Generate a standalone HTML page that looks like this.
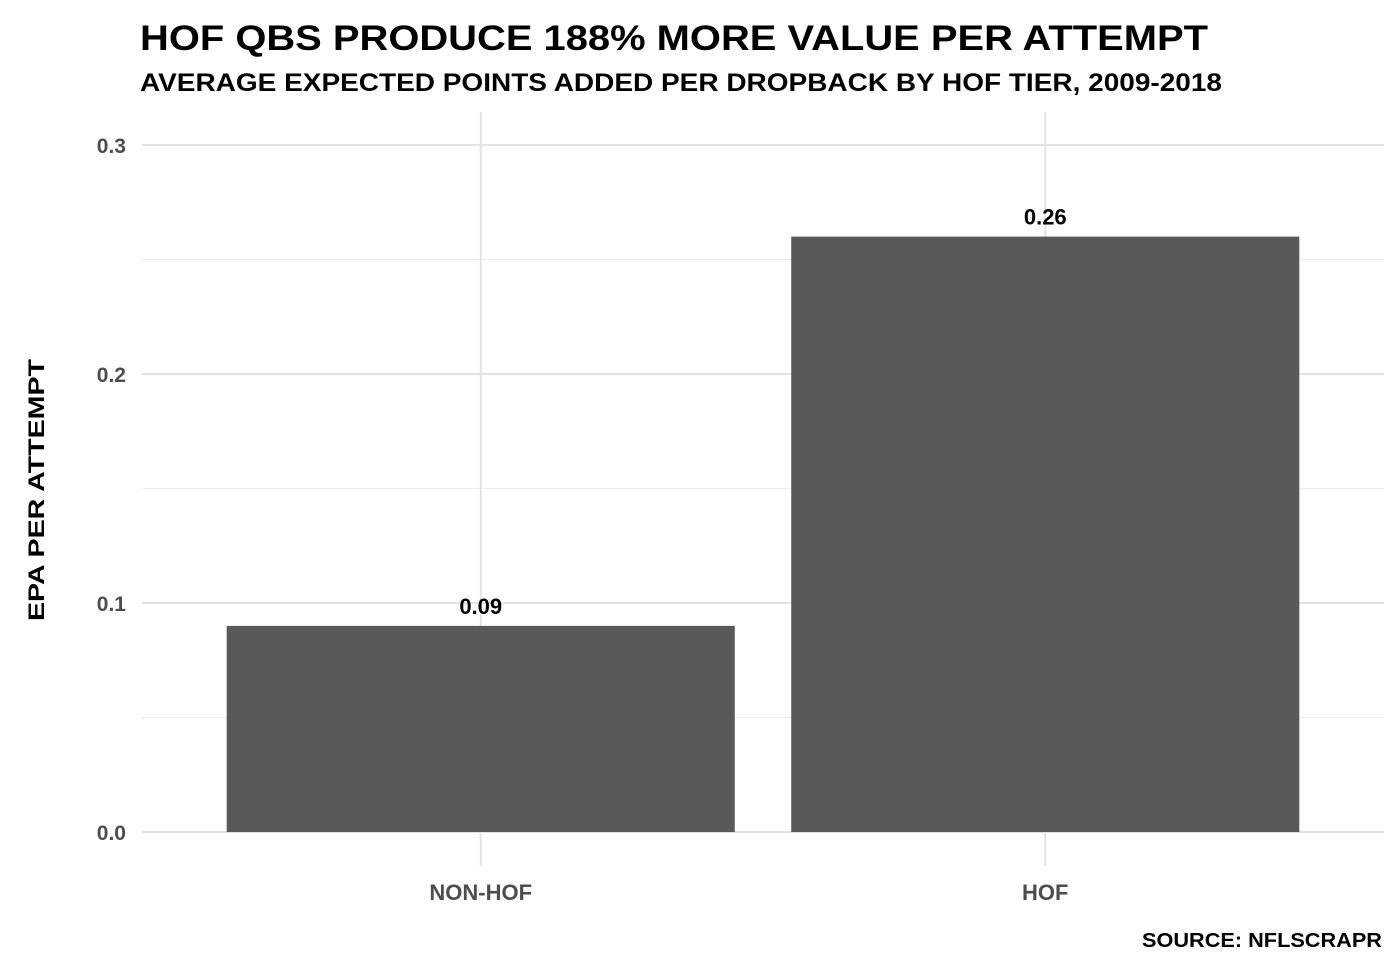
<!DOCTYPE html>
<html><head><meta charset="utf-8"><style>
body{margin:0;background:#fff;}
svg text{font-family:"Liberation Sans",sans-serif;font-weight:bold;}
</style></head><body>
<svg width="1400" height="966" xmlns="http://www.w3.org/2000/svg">
<text x="140" y="50" font-size="35" fill="#000" textLength="1068" lengthAdjust="spacingAndGlyphs">HOF QBS PRODUCE 188% MORE VALUE PER ATTEMPT</text>
<text x="140" y="91" font-size="25" fill="#000" textLength="1082" lengthAdjust="spacingAndGlyphs">AVERAGE EXPECTED POINTS ADDED PER DROPBACK BY HOF TIER, 2009-2018</text>
<g id="grid"></g>
<g id="bars"></g>
<g id="labels"></g>
<text transform="translate(44,490) rotate(-90)" text-anchor="middle" font-size="22" fill="#000" textLength="262" lengthAdjust="spacingAndGlyphs">EPA PER ATTEMPT</text>
<text x="1382" y="947" text-anchor="end" font-size="20" fill="#000" textLength="240" lengthAdjust="spacingAndGlyphs">SOURCE: NFLSCRAPR</text>
</svg>
<script>
const categories=["NON-HOF","HOF"];
const values=[0.09,0.26];
const valueLabels=["0.09","0.26"];
const yTicks=[0,0.1,0.2,0.3];
const yTickLabels=["0.0","0.1","0.2","0.3"];
const yMinor=[0.05,0.15,0.25];
const NS="http://www.w3.org/2000/svg";
const x0=142,x1=1384,yTop=112,yBot=866;
const y=v=>832-v*2290;
const band=(x1-x0)/(categories.length-1+1.2);
const xc=i=>x0+band*(0.6+i);
function mk(t,a,p){const e=document.createElementNS(NS,t);for(const k in a)e.setAttribute(k,a[k]);p.appendChild(e);return e;}
const g=document.getElementById('grid'),b=document.getElementById('bars'),l=document.getElementById('labels');
yMinor.forEach(v=>{const e=mk('line',{x1:x0,x2:x1,y1:y(v),y2:y(v),stroke:'#ececec','stroke-width':1},g);

});
yTicks.forEach((v,i)=>{const e=mk('line',{x1:x0,x2:x1,y1:y(v),y2:y(v),stroke:'#e3e3e3','stroke-width':2},g);


const t=mk('text',{x:126,y:y(v)+8,'text-anchor':'end','font-size':21,fill:'#4d4d4d'},l);t.textContent=yTickLabels[i];

});
categories.forEach((c,i)=>{const e=mk('line',{x1:xc(i),x2:xc(i),y1:yTop,y2:yBot,stroke:'#e3e3e3','stroke-width':2},g);


const w=band*0.9;
const r=mk('rect',{x:xc(i)-w/2,y:y(values[i]),width:w,height:y(0)-y(values[i]),fill:'#595959'},b);


const vt=mk('text',{x:xc(i),y:y(values[i])-12,'text-anchor':'middle','font-size':22,fill:'#000'},l);vt.textContent=valueLabels[i];


const ct=mk('text',{x:xc(i),y:900,'text-anchor':'middle','font-size':22,fill:'#4d4d4d'},l);ct.textContent=c;

});
</script>
</body></html>
